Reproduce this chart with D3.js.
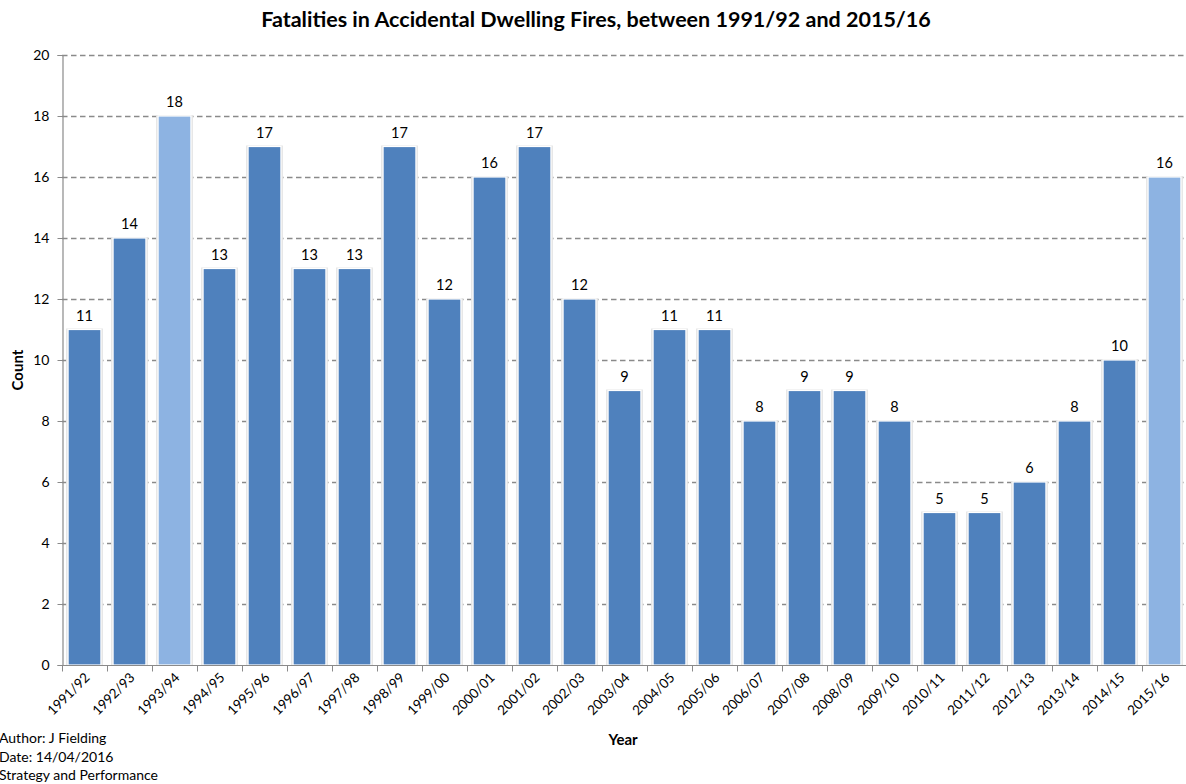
<!DOCTYPE html>
<html>
<head>
<meta charset="utf-8">
<script src="https://cdn.jsdelivr.net/npm/d3@7"></script>
<style>
  html, body { margin: 0; padding: 0; background: #fff; }
  svg { display: block; font-family: Lato, "Open Sans", sans-serif; }
</style>
</head>
<body>
<svg id="chart" width="1186" height="784"></svg>
<script>
const categories = ["1991/92","1992/93","1993/94","1994/95","1995/96","1996/97","1997/98","1998/99","1999/00","2000/01","2001/02","2002/03","2003/04","2004/05","2005/06","2006/07","2007/08","2008/09","2009/10","2010/11","2011/12","2012/13","2013/14","2014/15","2015/16"];
const counts = [11,14,18,13,17,13,13,17,12,16,17,12,9,11,11,8,9,9,8,5,5,6,8,10,16];
const highlighted = ["1993/94","2015/16"];
const yTicks = [0,2,4,6,8,10,12,14,16,18,20];
const footnotes = ["Author: J Fielding","Date: 14/04/2016","Strategy and Performance"];

const svg = d3.select("#chart");
const plotLeft = 62, plotRight = 1187, plotTop = 55, plotBottom = 665;

const x = d3.scaleBand().domain(categories).range([plotLeft, plotRight]).paddingInner(0.27).paddingOuter(0.135);
const y = d3.scaleLinear().domain([0, 20]).range([plotBottom, plotTop]);

// title
svg.append("text").attr("x", 596).attr("y", 27).attr("text-anchor", "middle")
  .attr("font-size", 21.5).attr("font-weight", "bold").attr("fill", "#000")
  .text("Fatalities in Accidental Dwelling Fires, between 1991/92 and 2015/16");

// gridlines
svg.append("g").selectAll("line").data(yTicks.filter(d => d > 0)).join("line")
  .attr("x1", plotLeft).attr("x2", 1186)
  .attr("y1", d => Math.round(y(d)) + 0.5).attr("y2", d => Math.round(y(d)) + 0.5)
  .attr("stroke", "#8a8a8a").attr("stroke-width", 1.4).attr("stroke-dasharray", "5.5,3.5");

// bars with soft shadow
const bars = svg.append("g");
bars.selectAll("rect.shadow").data(categories).join("rect")
  .attr("class", "shadow")
  .attr("x", d => x(d) - 2).attr("y", (d, i) => y(counts[i]) - 1)
  .attr("width", x.bandwidth() + 4).attr("height", (d, i) => plotBottom - y(counts[i]) + 1)
  .attr("fill", "#e6e6e6");
bars.selectAll("rect.bar").data(categories).join("rect")
  .attr("class", "bar")
  .attr("x", d => x(d)).attr("y", (d, i) => y(counts[i]))
  .attr("width", x.bandwidth()).attr("height", (d, i) => plotBottom - y(counts[i]))
  .attr("fill", d => highlighted.includes(d) ? "#8db3e2" : "#4f81bd")
  .attr("stroke", "#ffffff").attr("stroke-width", 1.2);

// value labels
svg.append("g").selectAll("text").data(categories).join("text")
  .attr("x", d => x(d) + x.bandwidth() / 2).attr("y", (d, i) => y(counts[i]) - 9)
  .attr("text-anchor", "middle").attr("font-size", 14.5).attr("fill", "#000")
  .text((d, i) => counts[i]);

// y axis
const yAxis = svg.append("g").attr("transform", `translate(${plotLeft + 0.5},0)`)
  .call(d3.axisLeft(y).tickValues(yTicks).tickSize(5).tickPadding(8));
yAxis.select(".domain").attr("stroke", "#8a8a8a").attr("stroke-width", 1.2);
yAxis.selectAll(".tick line").attr("stroke", "#8a8a8a");
yAxis.selectAll(".tick text").attr("font-size", 14).attr("font-family", "Lato, sans-serif").attr("fill", "#000");

// x axis
const xAxisG = svg.append("g").attr("transform", `translate(0,${plotBottom + 0.5})`);
xAxisG.append("line").attr("x1", plotLeft).attr("x2", 1186).attr("stroke", "#8a8a8a").attr("stroke-width", 1.2);
const step = x.step();
const boundaries = d3.range(categories.length + 1).map(i => x(categories[0]) - x.paddingOuter() * step + i * step);
xAxisG.selectAll("line.tk").data(boundaries).join("line").attr("class", "tk")
  .attr("x1", d => Math.round(d) + 0.5).attr("x2", d => Math.round(d) + 0.5)
  .attr("y1", 0).attr("y2", 6).attr("stroke", "#8a8a8a");
xAxisG.selectAll("text").data(categories).join("text")
  .attr("transform", d => `translate(${x(d) + x.bandwidth() / 2 + 6},${13}) rotate(-45)`)
  .attr("text-anchor", "end").attr("font-size", 13.5).attr("fill", "#000")
  .text(d => d);

// axis titles
svg.append("text").attr("x", 623).attr("y", 745).attr("text-anchor", "middle")
  .attr("font-size", 15).attr("font-weight", "bold").text("Year");
svg.append("text").attr("transform", "translate(23,370) rotate(-90)").attr("text-anchor", "middle")
  .attr("font-size", 15).attr("font-weight", "bold").text("Count");

// footnotes
svg.append("g").selectAll("text").data(footnotes).join("text")
  .attr("x", -1).attr("y", (d, i) => 743 + i * 18.5)
  .attr("font-size", 14).attr("fill", "#000").text(d => d);
</script>
</body>
</html>
